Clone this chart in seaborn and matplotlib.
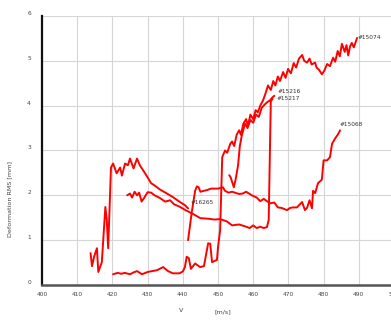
import numpy as np
import pandas as pd
import seaborn as sns
import matplotlib.pyplot as plt

# curve data (velocity [m/s], deformation RMS [mm])
x_15074 = [420.2, 421.5, 422.5, 423.5, 425.0, 426.0, 427.0, 428.4, 430.0, 431.3, 432.7,
           434.4, 435.8, 437.2, 439.0, 440.0, 440.6, 441.1, 441.7, 442.3, 443.5, 444.9,
           446.0, 447.2, 447.8, 448.3, 449.7, 450.0, 450.6, 451.2, 452.0, 452.6, 453.5,
           454.0, 454.6, 455.3, 456.0, 456.5, 457.2, 458.0, 458.5, 459.2, 460.0, 460.7,
           461.3, 462.0, 462.8, 463.4, 464.2, 465.0, 465.7, 466.3, 467.0, 467.6, 468.5,
           469.2, 469.9, 470.7, 471.5, 472.2, 473.0, 473.9, 474.5, 475.3, 476.0, 476.6,
           477.6, 478.0, 478.7, 479.5, 480.2, 481.0, 481.8, 482.7, 483.3, 484.0, 484.6,
           485.2, 486.0, 486.5, 487.0, 487.5, 488.0, 488.6, 489.5]
y_15074 = [0.24, 0.27, 0.25, 0.27, 0.24, 0.28, 0.31, 0.24, 0.29, 0.31, 0.33,
           0.40, 0.31, 0.26, 0.26, 0.30, 0.40, 0.63, 0.60, 0.36, 0.48, 0.40,
           0.42, 0.93, 0.92, 0.51, 0.56, 0.84, 1.22, 2.85, 3.00, 2.95, 3.15,
           3.20, 3.10, 3.35, 3.45, 3.35, 3.60, 3.70, 3.55, 3.80, 3.70, 3.90,
           3.85, 4.00, 4.12, 4.25, 4.45, 4.35, 4.55, 4.45, 4.65, 4.55, 4.75,
           4.62, 4.82, 4.72, 4.95, 4.85, 5.05, 5.13, 5.00, 4.96, 5.05, 4.92,
           4.96, 4.85, 4.80, 4.70, 4.78, 4.93, 4.88, 5.07, 4.98, 5.22, 5.10,
           5.38, 5.20, 5.35, 5.12, 5.32, 5.40, 5.30, 5.51]

x_15216 = [453.2, 453.6, 454.5, 455.0, 455.7, 456.2, 456.8, 457.7, 458.4, 459.2, 460.0,
           460.8, 461.6, 462.4, 463.2, 464.0, 464.8, 465.4, 466.0]
y_15216 = [2.45, 2.40, 2.18, 2.35, 2.67, 3.10, 3.35, 3.60, 3.50, 3.68, 3.62,
           3.80, 3.75, 3.95, 4.02, 4.08, 4.12, 4.18, 4.22]

x_15217 = [424.2, 425.0, 425.6, 426.3, 427.0, 427.6, 428.3, 429.0, 430.0, 431.0, 432.0,
           433.5, 435.0, 436.4, 437.5, 439.0, 441.0, 442.0, 443.0, 445.0, 447.0, 449.0,
           450.6, 452.5, 454.0, 456.0, 458.0, 459.0, 460.0, 461.0, 462.0, 463.0, 463.9,
           464.4, 465.0, 465.5]
y_15217 = [2.00, 2.04, 1.95, 2.08, 2.00, 2.06, 1.86, 1.94, 2.07, 2.06, 2.00,
           1.94, 1.86, 1.89, 1.80, 1.75, 1.66, 1.62, 1.58, 1.49, 1.48, 1.46,
           1.47, 1.42, 1.33, 1.35, 1.30, 1.27, 1.33, 1.27, 1.30, 1.27, 1.29,
           1.45, 4.10, 4.15]

x_15068 = [441.5, 442.5, 443.5, 444.0, 444.5, 445.0, 446.0, 447.0, 448.0, 450.0, 451.4,
           452.0, 453.0, 454.0, 456.0, 457.0, 458.0, 459.6, 461.0, 462.0, 463.0, 464.8,
           466.0, 467.0, 468.0, 469.6, 470.5, 471.3, 472.4, 473.9, 474.7, 475.3, 476.0,
           476.7, 477.0, 477.6, 478.4, 479.5, 480.0, 481.0, 481.8, 482.4, 483.2, 484.0,
           484.7]
y_15068 = [1.00, 1.60, 2.10, 2.20, 2.18, 2.08, 2.10, 2.12, 2.15, 2.15, 2.18,
           2.10, 2.06, 2.08, 2.03, 2.04, 2.08, 2.00, 1.95, 1.87, 1.92, 1.82,
           1.84, 1.73, 1.72, 1.67, 1.72, 1.73, 1.73, 1.85, 1.67, 1.72, 1.89,
           1.71, 2.10, 2.05, 2.27, 2.35, 2.78, 2.78, 2.85, 3.15, 3.26, 3.35,
           3.45]

x_16265 = [413.8, 414.2, 414.8, 415.6, 416.0, 417.0, 418.0, 418.4, 418.8, 419.6, 420.2,
           421.2, 422.2, 422.7, 423.6, 424.4, 425.0, 426.0, 427.0, 427.8, 429.3, 430.0,
           431.0, 432.0, 433.5, 435.5, 437.2, 439.2, 440.6, 441.5]
y_16265 = [0.71, 0.42, 0.63, 0.82, 0.29, 0.51, 1.74, 1.45, 0.82, 2.62, 2.71,
           2.49, 2.62, 2.44, 2.71, 2.67, 2.82, 2.60, 2.82, 2.67, 2.49, 2.40,
           2.27, 2.22, 2.13, 2.04, 1.96, 1.85, 1.78, 1.71]

names = ["#15074", "#15216", "#15217", "#15068", "#16265"]
xs = [x_15074, x_15216, x_15217, x_15068, x_16265]
ys = [y_15074, y_15216, y_15217, y_15068, y_16265]
# where each curve label sits
label_pos = [(489.6, 5.51), (466.8, 4.31), (466.7, 4.17), (484.4, 3.58), (442.3, 1.84)]

df = pd.concat([pd.DataFrame({"v": x, "rms": y, "run": n, "order": range(len(x))})
                for n, x, y in zip(names, xs, ys)], ignore_index=True)

sns.set_style("white")
plt.rcParams["font.family"] = ["DejaVu Sans"]

fig = plt.figure(figsize=(3.91, 3.2), dpi=100)
ax = fig.add_axes([0.1074, 0.1094, 0.9003, 0.8406])

sns.lineplot(data=df, x="v", y="rms", hue="run", units="run", estimator=None,
             sort=False, palette=["#ff0000"] * len(names), linewidth=1.4,
             legend=False, ax=ax)

for n, (lx, ly) in zip(names, label_pos):
    ax.text(lx, ly, n, fontsize=4.2, color="#333333", va="center", ha="left")

ax.set_xlim(400, 500)
ax.set_ylim(0, 6)
ax.set_xticks(np.arange(400, 501, 10))
ax.set_yticks(np.arange(0, 7, 1))
ax.grid(True, color="#d6d6d6", linewidth=0.8)
ax.set_axisbelow(True)

for s in ["top", "right"]:
    ax.spines[s].set_visible(False)
ax.spines["left"].set_color("#111111")
ax.spines["left"].set_linewidth(1.6)
ax.spines["bottom"].set_color("#555555")
ax.spines["bottom"].set_linewidth(1.8)

ax.tick_params(axis="both", direction="in", length=3, width=0.9, colors="#222222",
               labelsize=4.2, labelcolor="#444444")
ax.tick_params(axis="y", pad=8)
ax.tick_params(axis="x", pad=5)
for lab in ax.get_yticklabels():
    lab.set_va("bottom")

ax.set_xlabel("")
ax.set_ylabel("Deformation RMS [mm]", fontsize=4.6, color="#444444")
ax.yaxis.set_label_coords(-0.085, 0.32)

fig.text(181 / 391, 1 - 310 / 320, "V", fontsize=4.6, color="#444444", ha="center", va="center")
fig.text(223 / 391, 1 - 312 / 320, "[m/s]", fontsize=4.6, color="#444444", ha="center", va="center")

fig.savefig("out.png", dpi=100)
